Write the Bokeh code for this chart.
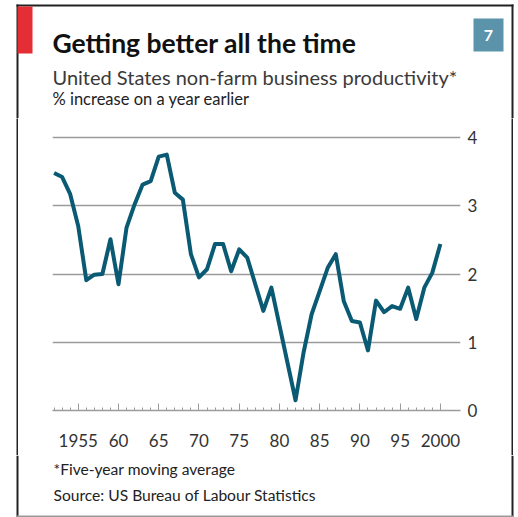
from bokeh.plotting import figure
from bokeh.models import FixedTicker, Range1d, Spacer
from bokeh.layouts import column, row
from bokeh.core.properties import value
from bokeh.embed import file_html
from bokeh.resources import INLINE

# ---- data ----
years = list(range(1952, 2001))
values = [3.48, 3.42, 3.17, 2.70, 1.91, 1.99, 2.00, 2.51, 1.85, 2.68,
          3.02, 3.31, 3.36, 3.72, 3.75, 3.19, 3.09, 2.29, 1.95, 2.07,
          2.44, 2.44, 2.04, 2.36, 2.24, 1.85, 1.46, 1.80, 1.25, 0.70,
          0.15, 0.85, 1.41, 1.75, 2.09, 2.29, 1.60, 1.31, 1.29, 0.88,
          1.61, 1.44, 1.53, 1.49, 1.80, 1.34, 1.80, 2.02, 2.44]
x_major_ticks = [1955, 1960, 1965, 1970, 1975, 1980, 1985, 1990, 1995, 2000]
x_tick_labels = ["1955", "60", "65", "70", "75", "80", "85", "90", "95", "2000"]
y_ticks = [0, 1, 2, 3, 4]
y_tick_labels = ["0", "1", "2", "3", "4"]

title_text = "Getting better all the time"
subtitle_text = "United States non-farm business productivity*"
unit_text = "% increase on a year earlier"
note_text = "*Five-year moving average"
source_text = "Source: US Bureau of Labour Statistics"
badge_text = "7"

FONT = "Lato"
LINE_COLOR = "#0a5a74"
GRID_COLOR = "#9c9c9c"
TEXT_COLOR = "#333333"
FRAME_COLOR = "#222222"


def panel(x0, y0, w, h, bg="white"):
    """A decoration panel whose data coordinates equal page pixels."""
    f = figure(width=w, height=h, output_backend="svg", toolbar_location=None,
               x_range=Range1d(x0, x0 + w), y_range=Range1d(y0 + h, y0),
               x_axis_location=None, y_axis_location=None,
               min_border_left=0, min_border_right=0,
               min_border_top=0, min_border_bottom=0, frame_align=False)
    f.grid.visible = False
    f.outline_line_color = None
    f.background_fill_color = bg
    f.border_fill_color = bg
    return f


def txt(f, x, y, t, size, style="normal", color=TEXT_COLOR, align="left"):
    f.text(x=[x], y=[y], text=[t], text_font=value(FONT), text_font_size=size,
           text_font_style=style, text_color=color, text_baseline="middle",
           text_align=align)


def bar(f, l, r, t, b, color=FRAME_COLOR):
    f.quad(left=[l], right=[r], top=[t], bottom=[b], fill_color=color, line_color=None)


HEAD_H = 118
FOOT_Y = 455
MID_H = FOOT_Y - HEAD_H

# ---- header ----
head = panel(0, 0, 518, HEAD_H)
bar(head, 16, 513, 4, 6)
bar(head, 16, 18, 4, HEAD_H)
bar(head, 511, 513, 4, HEAD_H)
bar(head, 17, 32, 6, 53, "#e42d35")
bar(head, 473, 503, 18, 51, "#5b93ab")
txt(head, 488, 35, badge_text, "16px", "bold", "white", "center")
txt(head, 52, 42.5, title_text, "26.5px", "bold", "#111111")
txt(head, 52, 76, subtitle_text, "20px", "normal", "#3a3a3a")
txt(head, 52, 98.5, unit_text, "16.5px", "normal", "#222222")

# ---- side frame lines (solid-filled thin panels) ----
left_line = panel(16, HEAD_H, 2, MID_H, FRAME_COLOR)
right_line = panel(511, HEAD_H, 2, MID_H, FRAME_COLOR)

# ---- main chart ----
p = figure(width=453, height=MID_H, output_backend="svg", toolbar_location=None,
           x_range=Range1d(1951.8, 2002.5), y_range=Range1d(0, 4.044),
           y_axis_location="right", frame_align=False,
           min_border_left=0, min_border_right=45,
           min_border_top=134 - HEAD_H, min_border_bottom=FOOT_Y - 410)
p.outline_line_color = None
p.background_fill_color = "white"
p.border_fill_color = "white"

xa = p.xaxis[0]
xa.ticker = FixedTicker(ticks=x_major_ticks, minor_ticks=years)
xa.major_label_overrides = {t: l for t, l in zip(x_major_ticks, x_tick_labels)}
xa.axis_line_color = GRID_COLOR
xa.axis_line_width = 1.5
xa.major_tick_line_color = GRID_COLOR
xa.minor_tick_line_color = GRID_COLOR
xa.major_tick_in = 7
xa.major_tick_out = 0
xa.minor_tick_in = 3
xa.minor_tick_out = 0
xa.major_label_standoff = 23
xa.major_label_text_font = FONT
xa.major_label_text_font_size = "17px"
xa.major_label_text_color = TEXT_COLOR

ya = p.yaxis[0]
ya.ticker = FixedTicker(ticks=y_ticks)
ya.major_label_overrides = {t: l for t, l in zip(y_ticks, y_tick_labels)}
ya.axis_line_color = None
ya.major_tick_line_color = None
ya.minor_tick_line_color = None
ya.major_tick_in = 0
ya.major_tick_out = 0
ya.major_label_standoff = 7
ya.major_label_text_font = FONT
ya.major_label_text_font_size = "17px"
ya.major_label_text_color = TEXT_COLOR

p.xgrid.visible = False
p.ygrid.grid_line_color = GRID_COLOR
p.ygrid.grid_line_width = 1.5

p.line(years, values, line_width=4, line_color=LINE_COLOR, line_join="round")

# ---- footer ----
foot = panel(0, FOOT_Y, 518, 517 - FOOT_Y)
bar(foot, 16, 18, FOOT_Y, 517)
bar(foot, 511, 513, FOOT_Y, 517)
bar(foot, 16, 513, 515, 517, "#999999")
txt(foot, 53, 468, note_text, "15.6px", "normal", "#222222")
txt(foot, 53, 494, source_text, "15.6px", "normal", "#222222")

middle = row(Spacer(width=16, height=MID_H), left_line, Spacer(width=34, height=MID_H),
             p, Spacer(width=6, height=MID_H), right_line, Spacer(width=5, height=MID_H),
             spacing=0)
layout = column(head, middle, foot, spacing=0)

open("out.html", "w").write(file_html(layout, INLINE))
